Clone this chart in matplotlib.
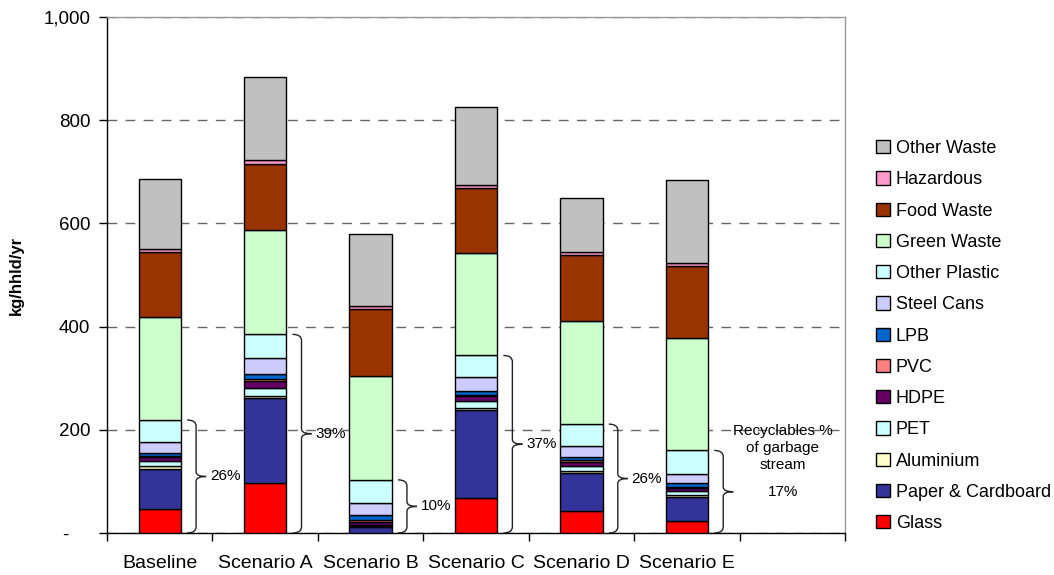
import numpy as np
import matplotlib
matplotlib.use("Agg")
import matplotlib.pyplot as plt
from matplotlib.patches import Patch, PathPatch
from matplotlib.path import Path

plt.rcParams["font.family"] = ["Liberation Sans", "DejaVu Sans"]

# categories (last slot is empty in the original chart)
scenarios = ["Baseline", "Scenario A", "Scenario B", "Scenario C", "Scenario D", "Scenario E", ""]

# waste components, bottom to top (kg/hhld/yr)
glass = [46, 96, 0, 67, 43, 24]
paper = [79, 165, 12, 171, 73, 45]
aluminium = [5, 5, 1, 4, 4, 4]
pet = [9, 15, 3, 13, 10, 8]
hdpe = [8, 13, 6, 10, 8, 7]
pvc = [3, 4, 3, 3, 3, 2]
lpb = [6, 10, 10, 8, 6, 6]
steel_cans = [21, 32, 24, 27, 22, 18]
other_plastic = [42, 45, 44, 41, 42, 46]
green_waste = [199, 202, 202, 198, 200, 218]
food_waste = [126, 129, 129, 126, 128, 139]
hazardous = [6, 7, 6, 6, 5, 7]
other_waste = [137, 160, 140, 152, 106, 160]

components = ["Glass", "Paper & Cardboard", "Aluminium", "PET", "HDPE", "PVC", "LPB",
              "Steel Cans", "Other Plastic", "Green Waste", "Food Waste", "Hazardous",
              "Other Waste"]
colors = ["#FF0000", "#333399", "#FFFFCC", "#CCFFFF", "#660066", "#FF8080", "#0066CC",
          "#CCCCFF", "#CCFFFF", "#CCFFCC", "#993300", "#FF99CC", "#C0C0C0"]

# recyclables share of garbage stream (bracket labels)
recycl_pct = ["26%", "39%", "10%", "37%", "26%", "17%"]


def brace(ax, x0, x1, y0, y1, r=12, rt=9):
    xm = (x0 + x1) / 2 - 0.005
    ymid = (y0 + y1) / 2
    verts = [
        (x0, y1), (xm, y1), (xm, y1 - r),
        (xm, ymid + rt), (xm, ymid), (x1, ymid),
        (x1, ymid), (xm, ymid), (xm, ymid - rt),
        (xm, y0 + r), (xm, y0), (x0, y0),
    ]
    codes = [Path.MOVETO, Path.CURVE3, Path.CURVE3,
             Path.LINETO, Path.CURVE3, Path.CURVE3,
             Path.MOVETO, Path.CURVE3, Path.CURVE3,
             Path.LINETO, Path.CURVE3, Path.CURVE3]
    ax.add_patch(PathPatch(Path(verts, codes), facecolor="none", edgecolor="#222222",
                           lw=1.0, zorder=4))


fig = plt.figure(figsize=(10.54, 5.75), dpi=100)
ax = fig.add_axes([107 / 1054, 1 - 533 / 575, (845 - 107) / 1054, (533 - 17) / 575])

series = [glass, paper, aluminium, pet, hdpe, pvc, lpb, steel_cans, other_plastic,
          green_waste, food_waste, hazardous, other_waste]
n = len(glass)
x = np.arange(n) + 0.5
bottom = np.zeros(n)
for vals, name, col in zip(series, components, colors):
    ax.bar(x, vals, width=0.4, bottom=bottom, color=col, edgecolor="black",
           linewidth=1.0, label=name, zorder=3)
    bottom += np.array(vals)

# recyclables = everything up to and including Other Plastic
recyc = np.sum(np.array(series[:9]), axis=0)
for i in range(n):
    brace(ax, i + 0.76, i + 0.94, 0, recyc[i])
    if i < n - 1:
        ax.text(i + 0.975, recyc[i] / 2, recycl_pct[i], fontsize=11, ha="left",
                va="center", zorder=5)
    else:
        ax.text(i + 1.41, 165, "Recyclables %\nof garbage\nstream", fontsize=11,
                ha="center", va="center", linespacing=1.25, zorder=5)
        ax.text(i + 1.41, recyc[i] / 2, recycl_pct[i], fontsize=11, ha="center",
                va="center", zorder=5)

ax.set_xlim(0, len(scenarios))
ax.set_ylim(0, 1000)
ax.set_xticks(np.arange(len(scenarios) + 1))
ax.set_xticklabels([])
ax.set_xticks(np.arange(len(scenarios)) + 0.5, minor=True)
ax.set_xticklabels(scenarios, minor=True, fontsize=14)
ax.tick_params(axis="x", which="minor", length=0, pad=16)
ax.tick_params(axis="x", which="major", length=6, width=1, direction="out")

ax.set_yticks([0, 200, 400, 600, 800, 1000])
ax.set_yticklabels(["-    ", "200", "400", "600", "800", "1,000"], fontsize=13.5)
ax.tick_params(axis="y", length=6, width=1, direction="out", pad=6)
ax.set_ylabel("kg/hhld/yr", fontsize=12, fontweight="bold", labelpad=14)

ax.yaxis.grid(True, linestyle=(0, (7, 6)), color="#666666", linewidth=1.0, zorder=0)
ax.set_axisbelow(True)
for s in ["left", "bottom"]:
    ax.spines[s].set_color("black")
    ax.spines[s].set_linewidth(1.0)
for s in ["top", "right"]:
    ax.spines[s].set_color("#999999")
    ax.spines[s].set_linewidth(1.0)

handles = [Patch(facecolor=c, edgecolor="black", linewidth=1.0) for c in colors][::-1]
labels = components[::-1]
ax.legend(handles, labels, loc="upper left", bbox_to_anchor=(876 / 1054, 1 - 140 / 575),
          bbox_transform=fig.transFigure, frameon=False, fontsize=13,
          handlelength=0.75, handleheight=0.75, handletextpad=0.35,
          labelspacing=0.79, borderpad=0, borderaxespad=0)

fig.savefig("out.png", dpi=100)
